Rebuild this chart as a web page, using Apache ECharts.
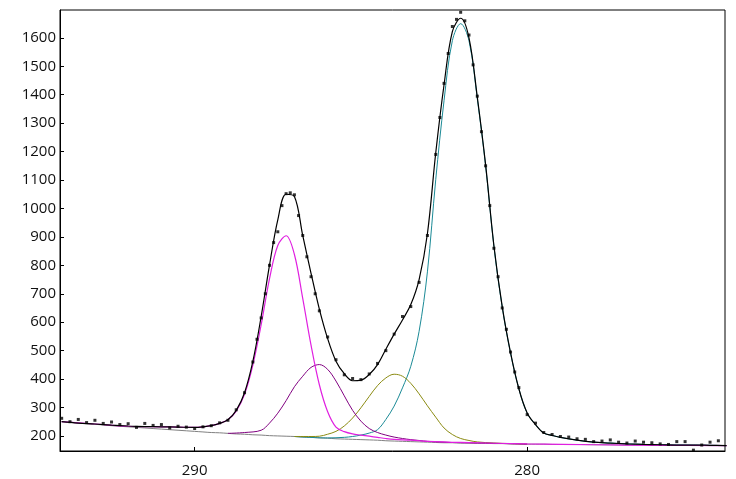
<!DOCTYPE html>
<html><head><meta charset="utf-8">
<script src="https://cdn.jsdelivr.net/npm/echarts@6/dist/echarts.min.js"></script>
<style>html,body{margin:0;padding:0;background:#fff}#c{width:736px;height:479px}</style>
</head><body><div id="c"></div>
<script>
const xTicks = [280, 290];
const yTicks = [200,300,400,500,600,700,800,900,1000,1100,1200,1300,1400,1500,1600];

const bgX = [294,293.5,293,292.5,292,291.5,291,290.5,290,289.75,289.5,289.25,289,288.75,288.5,288.25,288,287.75,287.5,287.25,287,286.75,286.5,286.25,286,285.75,285.5,285.25,285,284.75,284.5,284.25,284,283.75,283.5,283.25,283,282.75,282.5,282.25,282,281.75,281.5,281.25,281,280.75,280.5,280.25,280,279.75,279.5,279.25,279,278.5,278,277.5,277,276.5,276,275.5,275,274.5,274];
const bgY = [250,245,241,236,232,228,224,220,216,214,212,211,209,207,206,204,203,201,200,199,198,196,195,193,192,190,189,188,187,186,185,183,182,181,180,179,178,177,176,176,175,175,174,174,173,173,172,172,171,171,171,170,170,170,169,169,168,168,167,167,167,166,166];

const envY = [250,245,242,238,235,233,232,231,230,232,236,244,257,290,352,462,620,800,960,1050,1042,905,772,646,542,463,419,394,396,416,451,505,558,608,662,750,911,1195,1435,1622,1669,1600,1392,1154,869,655,493,366,281,240,210,202,195,185,178,175,172,170,169,168,168,167,166];

const dataY = [262,258,255,249,243,244,240,234,226,232,236,246,255,292,352,460,615,800,918,1052,1048,905,760,640,548,468,415,402,398,418,455,500,558,620,655,740,905,1190,1440,1640,1690,1610,1395,1150,860,650,495,370,275,245,212,205,198,190,180,186,175,178,172,180,150,178,165];

const data2X = [293.75,293.25,292.75,292.25,291.75,291.25,290.75,290.25,288.125,287.875,287.625,287.375,287.125,286.875,286.625,286.375,282.625,282.375,282.125,281.875,281.625,281.375,281.125,280.875,280.625,280.375,278.75,278.25,277.75,277.25,276.75,276.25,275.75,275.25,274.75,274.25];
const data2Y = [250,247,244,240,230,237,228,231,540,700,880,1010,1055,975,830,700,1320,1545,1665,1660,1505,1270,1010,760,575,425,196,188,182,178,182,176,170,180,168,183];

const magX = [294,293,292,291,290.5,290,289.75,289.5,289.25,289,288.75,288.5,288.25,288,287.75,287.5,287.25,287,286.75,286.5,286.25,286,285.75,285.5,285.25,285,284.75,284.5,284.25,284,283.5,283,282,280,278,276,274];
const magY = [250,242,234,232,231,230,232,236,244,257,287,346,449,591,752,870,904,838,684,519,380,285,231,215,207,203,199,195,191,188,185,181,177,172,169,167,166];

const purX = [289,288.5,288,287.75,287.5,287.25,287,286.75,286.5,286.25,286,285.75,285.5,285.25,285,284.75,284.5,284.25,284,283.75,283.5,283.25,283,282.5,282,281,280];
const purY = [209,212,220,245,280,324,373,410,441,451,434,393,341,290,252,226,212,203,196,191,187,184,181,178,176,174,171];

const oliX = [287,286.5,286.25,286,285.75,285.5,285.25,285,284.75,284.5,284.25,284,283.75,283.5,283.25,283,282.75,282.5,282.25,282,281.75,281.5,281,280.5,280];
const oliY = [198,198,199,206,216,235,263,299,339,377,404,417,410,385,348,306,266,228,205,191,184,179,175,173,171];

const tealX = [287,286,285.5,285.25,285,284.75,284.5,284.25,284,283.75,283.5,283.25,283,282.75,282.5,282.25,282,281.75,281.5,281.25,281,280.75,280.5,280.25,280,279.75,279.5,279.25,279,278.5,278,277.5,277,276,275,274];
const tealY = [198,193,195,198,203,210,222,258,305,369,445,568,777,1101,1379,1590,1650,1590,1386,1150,866,653,491,366,280,240,210,202,195,185,178,175,172,169,168,166];

const pairs = (xs, ys) => xs.map((x, i) => [x, ys[i]]);

function line(name, xs, ys, color, w, z) {
  return {name, type:'line', data:pairs(xs, ys), smooth:0.35, symbol:'none',
    lineStyle:{color, width:w}, z, animation:false};
}

const chart = echarts.init(document.getElementById('c'));
chart.setOption({
  animation:false,
  grid:{left:60, right:11, top:10, bottom:28},
  xAxis:{type:'value', inverse:true, min:274.05, max:294.05,
    axisLine:{show:true, onZero:false, lineStyle:{color:'#000'}},
    axisTick:{show:true, inside:true, length:4, customValues:xTicks, lineStyle:{color:'#000'}},
    axisLabel:{customValues:xTicks, color:'#111', fontSize:15, fontFamily:'Open Sans', margin:12, formatter:v => String(v)},
    splitLine:{show:false}},
  yAxis:{type:'value', min:147, max:1698,
    axisLine:{show:true, onZero:false, lineStyle:{color:'#000'}},
    axisTick:{show:true, inside:true, length:4, customValues:yTicks, lineStyle:{color:'#000'}},
    axisLabel:{customValues:yTicks, color:'#111', fontSize:15, fontFamily:'Open Sans', margin:4, formatter:v => String(v)},
    splitLine:{show:false}},
  graphic:[{type:'rect', shape:{x:60, y:10, width:665, height:441}, style:{fill:'none', stroke:'#000', lineWidth:1}, z:100, silent:true}],
  series:[
    line('bg', bgX, bgY, '#808080', 1, 2),
    line('teal', tealX, tealY, '#1b8a96', 1, 3),
    line('olive', oliX, oliY, '#8a8a10', 1, 3),
    line('purple', purX, purY, '#800080', 1, 3),
    line('magenta', magX, magY, '#e020e0', 1.2, 4),
    line('envelope', bgX, envY, '#000000', 1.2, 5),
    {name:'data', type:'scatter', data:pairs(bgX, dataY).concat(pairs(data2X, data2Y)), symbol:'rect', symbolSize:3,
      itemStyle:{color:'#000'}, z:6}
  ]
});
</script></body></html>
